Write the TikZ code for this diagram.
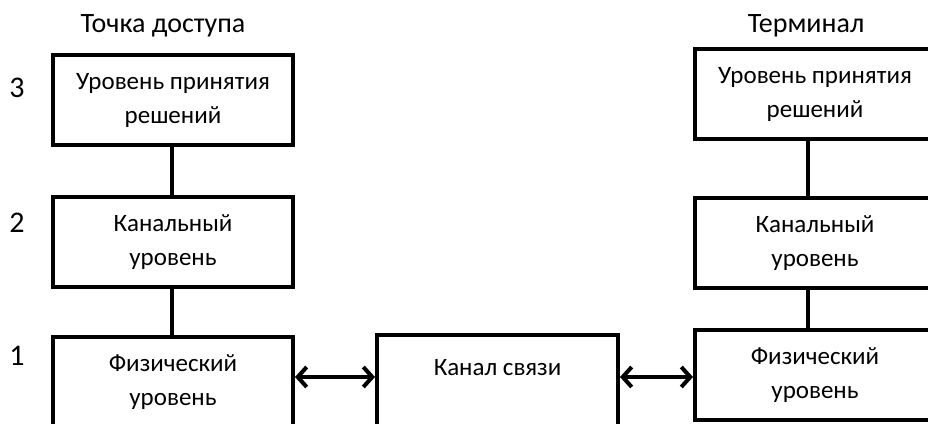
\documentclass[tikz,border=0pt]{standalone}
\usepackage{fontspec}
\setmainfont{Carlito}
\usetikzlibrary{arrows.meta,shapes}
\tikzstyle{layer box}=[draw,line width=4pt,rectangle,minimum width=240pt,minimum height=90pt,inner sep=0pt,align=center,font=\fontsize{25}{34}\selectfont]
\tikzstyle{head}=[font=\fontsize{28}{32}\selectfont,inner sep=0pt]
\tikzstyle{level}=[font=\fontsize{30}{36}\selectfont,inner sep=0pt]
\tikzstyle{spine}=[draw,line width=3.5pt,-]
\tikzstyle{link}=[draw,line width=4pt,{Straight Barb[length=9pt,width=20pt]}-{Straight Barb[length=9pt,width=20pt]}]

\begin{document}
\begin{tikzpicture}[x=1pt,y=-1pt]
    \useasboundingbox (0,0) rectangle (928,423);
    \clip (0,0) rectangle (928,423);
    % Column titles and level numbers
    \node[head] (aptitle) at (163,26) {Точка доступа};
    \node[head] (termtitle) at (806,26) {Терминал};
    \foreach \pos/\name/\num in {{(17,88)/lvl3/3}, {(17,223)/lvl2/2}, {(17,356)/lvl1/1}}
        \node[level] (\name) at \pos {\num};

    % Then the layer boxes
    \foreach \pos/\name/\txt in {{(173,100)/ap3/{Уровень принятия\\решений}}, {(173,242)/ap2/{Канальный\\уровень}}, {(173,382)/ap1/{Физический\\уровень}}, {(815,94)/term3/{Уровень принятия\\решений}}, {(815,243)/term2/{Канальный\\уровень}}, {(815,375)/term1/{Физический\\уровень}}}
        \node[layer box] (\name) at \pos {\txt};
    \node[layer box,minimum width=241pt,minimum height=98pt] (chan) at (497.5,384) {Канал связи\\~};

    % Connect the layers
    \coordinate (apspine) at (172,0);
    \coordinate (termspine) at (808,0);
    \coordinate (linklvl) at (0,377);
    \foreach \source/\dest in {ap3/ap2, ap2/ap1}
        \path[spine] (\source.south -| apspine) -- (\dest.north -| apspine);
    \foreach \source/\dest in {term3/term2, term2/term1}
        \path[spine] (\source.south -| termspine) -- (\dest.north -| termspine);
    \path[link] (ap1.east |- linklvl) -- (chan.west |- linklvl);
    \path[link] (chan.east |- linklvl) -- (term1.west |- linklvl);
\end{tikzpicture}
\end{document}
